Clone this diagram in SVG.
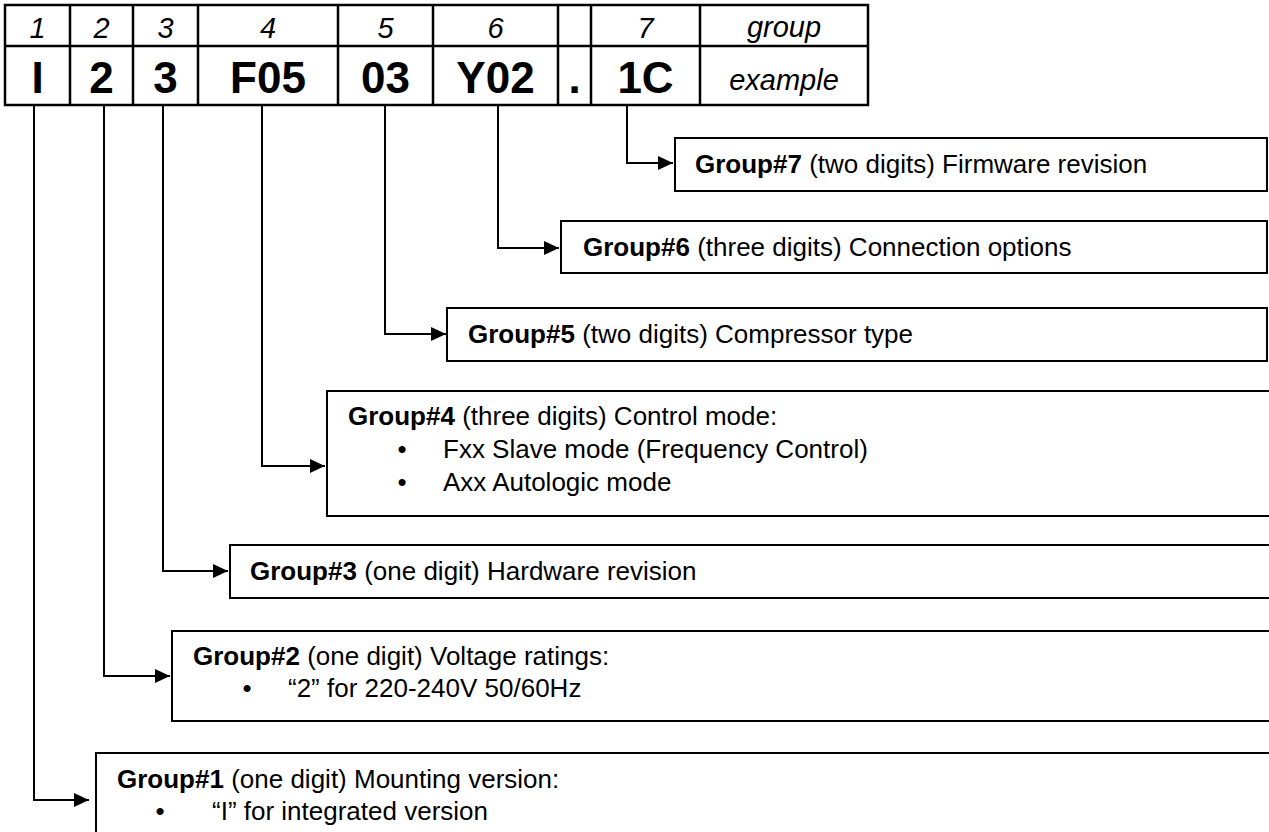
<svg xmlns="http://www.w3.org/2000/svg" width="1269" height="832" viewBox="0 0 1269 832">
<style>
text{font-family:"Liberation Sans",Arial,sans-serif;fill:#000}
.hd{font-size:29px;font-style:italic;text-anchor:middle}
.big{font-size:44px;font-weight:bold;text-anchor:middle}
.t{font-size:26px}
.b{font-weight:bold}
.bul{font-size:26px;text-anchor:middle}
.box{fill:#fff;stroke:#000;stroke-width:2}
.tbl{fill:none;stroke:#000;stroke-width:2.5}
.con{fill:none;stroke:#000;stroke-width:2;marker-end:url(#arr)}
</style>
<defs>
<marker id="arr" viewBox="0 0 15 14" refX="15" refY="7" markerWidth="15" markerHeight="14" markerUnits="userSpaceOnUse" orient="auto">
<path d="M0,0 L15,7 L0,14 Z" fill="#000"/>
</marker>
</defs>
<rect width="1269" height="832" fill="#fff"/>
<g id="table">
<rect class="tbl" x="5" y="5" width="863" height="100"/>
<path class="tbl" d="M5,46H868M70,5V105M133,5V105M198,5V105M338,5V105M433,5V105M558,5V105M591,5V105M700,5V105"/>
<text class="hd" x="37.5" y="38">1</text>
<text class="hd" x="101.5" y="38">2</text>
<text class="hd" x="165.5" y="38">3</text>
<text class="hd" x="268" y="38">4</text>
<text class="hd" x="385.5" y="38">5</text>
<text class="hd" x="495.5" y="38">6</text>
<text class="hd" x="645.5" y="38">7</text>
<text class="hd" x="784" y="37">group</text>
<text class="big" x="37.5" y="93">I</text>
<text class="big" x="101.5" y="93">2</text>
<text class="big" x="165.5" y="93">3</text>
<text class="big" x="268" y="93">F05</text>
<text class="big" x="385.5" y="93">03</text>
<text class="big" x="495.5" y="93">Y02</text>
<text class="big" x="574.5" y="93">.</text>
<text class="big" x="645.5" y="93">1C</text>
<text class="hd" x="784" y="90">example</text>
</g>
<g id="connectors">
<path class="con" d="M34,105V800H89"/>
<path class="con" d="M104,105V676H170"/>
<path class="con" d="M163,105V571H228"/>
<path class="con" d="M262,105V466H325"/>
<path class="con" d="M385,105V334H446"/>
<path class="con" d="M498,105V248H559"/>
<path class="con" d="M627,105V163H673"/>
</g>
<g id="group7">
<rect class="box" x="675" y="138" width="592" height="53"/>
<text class="t" x="695" y="173"><tspan class="b">Group#7</tspan> (two digits) Firmware revision</text>
</g>
<g id="group6">
<rect class="box" x="561" y="221" width="706" height="52"/>
<text class="t" x="583" y="256"><tspan class="b">Group#6</tspan> (three digits) Connection options</text>
</g>
<g id="group5">
<rect class="box" x="447" y="308" width="820" height="53"/>
<text class="t" x="468" y="343"><tspan class="b">Group#5</tspan> (two digits) Compressor type</text>
</g>
<g id="group4">
<rect class="box" x="327" y="391" width="960" height="125"/>
<text class="t" x="348" y="425"><tspan class="b">Group#4</tspan> (three digits) Control mode:</text>
<text class="bul" x="402" y="458">•</text>
<text class="t" x="443" y="458">Fxx Slave mode (Frequency Control)</text>
<text class="bul" x="402" y="491">•</text>
<text class="t" x="443" y="491">Axx Autologic mode</text>
</g>
<g id="group3">
<rect class="box" x="230" y="545" width="1060" height="53"/>
<text class="t" x="250" y="580"><tspan class="b">Group#3</tspan> (one digit) Hardware revision</text>
</g>
<g id="group2">
<rect class="box" x="172" y="631" width="1120" height="90"/>
<text class="t" x="193" y="665"><tspan class="b">Group#2</tspan> (one digit) Voltage ratings:</text>
<text class="bul" x="247" y="697">•</text>
<text class="t" x="288" y="697">“2” for 220-240V 50/60Hz</text>
</g>
<g id="group1">
<rect class="box" x="96" y="753" width="1200" height="100"/>
<text class="t" x="117" y="788"><tspan class="b">Group#1</tspan> (one digit) Mounting version:</text>
<text class="bul" x="160" y="820">•</text>
<text class="t" x="212" y="820">“I” for integrated version</text>
</g>
</svg>
